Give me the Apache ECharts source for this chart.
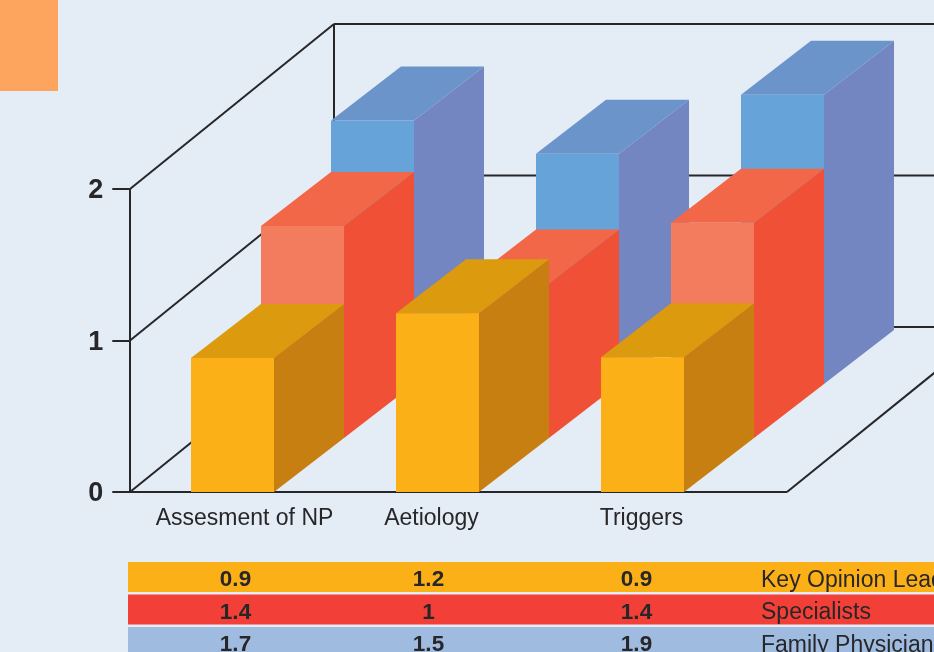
<!DOCTYPE html>
<html><head><meta charset="utf-8">
<style>html,body{margin:0;padding:0;background:#e4ecf6;overflow:hidden}#c{width:934px;height:652px}</style>
<script src="https://cdn.jsdelivr.net/npm/echarts@6/dist/echarts.min.js"></script>
</head><body><div id="c"></div>
<script>
const categories = ['Assesment of NP', 'Aetiology', 'Triggers'];
const yTicks = [0, 1, 2];
const seriesNames = ['Key Opinion Leaders', 'Specialists', 'Family Physicians'];
const keyOpinionLeaders = [0.885, 1.18, 0.89];
const specialists = [1.4, 1.02, 1.42];
const familyPhysicians = [1.74, 1.52, 1.91];
const keyOpinionLeadersLabels = ['0.9', '1.2', '0.9'];
const specialistsLabels = ['1.4', '1', '1.4'];
const familyPhysiciansLabels = ['1.7', '1.5', '1.9'];

const FONT = '"Liberation Sans", Arial, sans-serif';
const INK = '#272628';
const ROW = { dx: 70 / 205, dy: -54 / 205 };      // depth of one row, in category bands
const WALL = { dx: 204 / 205, dy: -165 / 205 };   // depth of the whole box
const FLOOR_W = 657 / 205;                        // floor width, in bands
const BAR_W = 83 / 205;
const faces = [
  { front: '#fcb017', top: '#dc9a0e', side: '#c87f11' },
  { front: '#f47c5e', top: '#f36749', side: '#f05035' },
  { front: '#65a3d9', top: '#6b94cb', side: '#7386c2' }
];
const rowFills = ['#fcb017', '#f23f38', '#9fbce0'];
const tableLabels = [keyOpinionLeadersLabels, specialistsLabels, familyPhysiciansLabels];
const tableColOffsets = [3, -9, -6];

function barSeries(values, row) {
  return {
    type: 'custom', name: seriesNames[row], z: 10 - row,
    data: values.map((v, i) => [i, v]),
    encode: { x: 0, y: 1 },
    renderItem(params, api) {
      const band = api.size([1, 0])[0];
      const base = api.coord([api.value(0), 0]);
      const top = api.coord([api.value(0), api.value(1)]);
      const ox = row * ROW.dx * band, oy = row * ROW.dy * band;
      const dx = ROW.dx * band, dy = ROW.dy * band;
      const l = base[0] - BAR_W * band / 2 + ox, r = l + BAR_W * band;
      const b = base[1] + oy, t = top[1] + oy;
      const f = faces[row];
      const poly = (points, fill) => ({ type: 'polygon', shape: { points }, style: { fill } });
      return { type: 'group', children: [
        poly([[r, b], [r + dx, b + dy], [r + dx, t + dy], [r, t]], f.side),
        poly([[l, t], [r, t], [r + dx, t + dy], [l + dx, t + dy]], f.top),
        poly([[l, b], [r, b], [r, t], [l, t]], f.front)
      ] };
    }
  };
}

const frameSeries = {
  type: 'custom', z: 1, data: yTicks.map(v => [0, v]), encode: { x: 0, y: 1 },
  renderItem(params, api) {
    const band = api.size([1, 0])[0];
    const p = api.coord([0, api.value(1)]);
    const x0 = p[0] - band / 2, y = p[1];
    const wx = x0 + WALL.dx * band, wy = y + WALL.dy * band;
    const line = (x1, y1, x2, y2, w) => ({ type: 'line', shape: { x1, y1, x2, y2 },
      style: { stroke: INK, lineWidth: w || 2 } });
    const kids = [
      line(x0, y, wx, wy),
      line(wx, wy, wx + FLOOR_W * band, wy)
    ];
    if (api.value(1) === 2) {
      kids.push(line(wx, wy, wx, api.coord([0, 0])[1] + WALL.dy * band));
    }
    if (api.value(1) === 0) {
      const fx = x0 + FLOOR_W * band;
      kids.push(line(x0 - 1, y, fx, y));
      kids.push(line(fx, y, fx + WALL.dx * band, y + WALL.dy * band));
    }
    return { type: 'group', children: kids };
  }
};

const tableSeries = {
  type: 'custom', z: 20, clip: false, data: seriesNames.map((n, r) => [0, r]), encode: { x: 0, y: 1 },
  renderItem(params, api) {
    const r = params.dataIndex;
    const base = api.coord([0, 0]);
    const band = api.size([1, 0])[0];
    const left = base[0] - band / 2 - 2;
    const top = base[1] + 70 + r * 32.5, h = 30;
    const cy = top + h / 2 + 3;
    const kids = [{ type: 'rect', shape: { x: left, y: top, width: api.getWidth() - left, height: h },
      style: { fill: rowFills[r] } }];
    tableLabels[r].forEach((t, c) => {
      kids.push({ type: 'text', style: {
        x: api.coord([c, 0])[0] + tableColOffsets[c], y: cy, text: t, align: 'center', verticalAlign: 'middle',
        fill: INK, font: 'bold 22.5px ' + FONT } });
    });
    kids.push({ type: 'text', style: { x: 761, y: cy + 0.5, text: seriesNames[r], align: 'left',
      verticalAlign: 'middle', fill: INK, font: '23px ' + FONT } });
    return { type: 'group', children: kids };
  }
};

const chart = echarts.init(document.getElementById('c'), null, { renderer: 'canvas' });
chart.setOption({
  animation: false,
  backgroundColor: '#e4ecf6',
  graphic: [{ type: 'rect', shape: { x: 0, y: 0, width: 58, height: 91 }, style: { fill: '#fda45f' } }],
  grid: { left: 130, top: 189, width: 615, height: 303, containLabel: false },
  xAxis: {
    type: 'category', data: categories, boundaryGap: true,
    axisLine: { show: false }, axisTick: { show: false }, splitLine: { show: false },
    axisLabel: {
      margin: 15, color: INK, fontFamily: FONT, fontSize: 23, interval: 0,
      formatter: (v, i) => '{c' + i + '|' + v + '}',
      rich: {
        c0: { padding: [0, 0, 0, 24], fontFamily: FONT, fontSize: 23, color: INK },
        c1: { padding: [0, 12, 0, 0], fontFamily: FONT, fontSize: 23, color: INK },
        c2: { padding: [0, 2, 0, 0], fontFamily: FONT, fontSize: 23, color: INK }
      }
    }
  },
  yAxis: {
    type: 'value', min: 0, max: 2, interval: 1, offset: 0.7,
    axisLine: { show: true, lineStyle: { color: INK, width: 2 } },
    axisTick: { show: true, length: 17, lineStyle: { color: INK, width: 2 } },
    splitLine: { show: false },
    axisLabel: {
      margin: 26, showMinLabel: true, showMaxLabel: true,
      formatter: v => '{t|' + v + '}',
      rich: { t: { padding: [4, 0, 0, 0], color: INK, fontFamily: FONT, fontSize: 27, fontWeight: 'bold' } }
    }
  },
  series: [frameSeries, barSeries(familyPhysicians, 2), barSeries(specialists, 1), barSeries(keyOpinionLeaders, 0), tableSeries]
});
</script></body></html>
